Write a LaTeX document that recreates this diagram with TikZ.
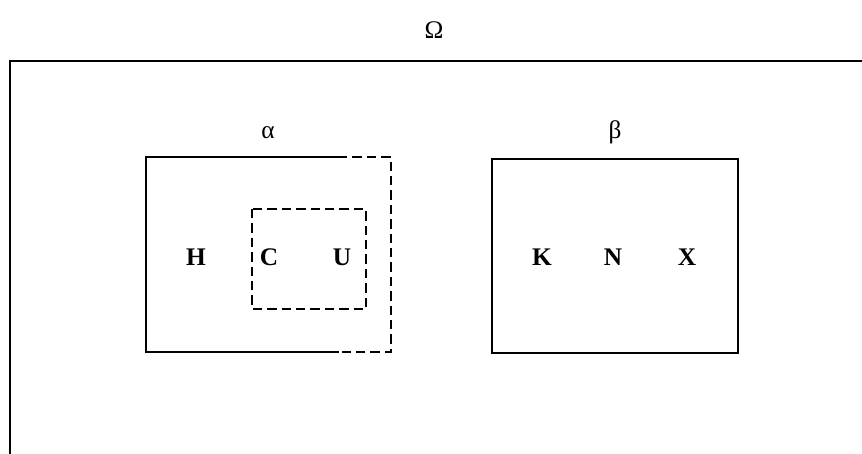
\documentclass[tikz,border=0pt]{standalone}
\usepackage{fontspec}
\setmainfont{Liberation Serif}
\usetikzlibrary{positioning}
\tikzset{
  setline/.style={line width=1.9pt, line cap=rect},
  dashline/.style={line width=1.9pt, dash pattern=on 7pt off 3.8pt},
  elem/.style={font=\fontsize{19}{19}\selectfont\bfseries, inner sep=0pt},
  setname/.style={font=\fontsize{19}{19}\selectfont, inner sep=0pt}}

\begin{document}
\begin{tikzpicture}[x=0.75pt, y=-0.75pt]
  \useasboundingbox (0,0) rectangle (862,453);
  \clip (0,0) rectangle (862,453);
  % universe
  \coordinate (ubl) at (10,480);
  \coordinate (utl) at (10,61);
  \coordinate (utr) at (890,61);
  \draw[setline] (ubl) -- (utl) -- (utr);
  \node[setname] (om) at (434,30) {Ω};
  % set alpha, right part dashed
  \coordinate (atl) at (146,157);
  \coordinate (atm) at (338,157);
  \coordinate (atr) at (391,157);
  \coordinate (abr) at (391,352);
  \coordinate (abm) at (338,352);
  \coordinate (abl) at (146,352);
  \draw[setline] (atm) -- (atl) -- (abl) -- (abm);
  \draw[dashline] (atm) -- (atr) -- (abr) -- (abm);
  \node[setname] (al) at (268,133) {α};
  % inner dashed set
  \coordinate (ctl) at (252,209);
  \coordinate (cbr) at (366,309);
  \draw[dashline] (ctl) rectangle (cbr);
  \node[elem] (h) at (196,257) {H};
  \node[elem] (c) at (269,257) {C};
  \node[elem] (u) at (342,257) {U};
  % set beta
  \coordinate (btl) at (492,159);
  \coordinate (bbr) at (738,353);
  \draw[setline] (btl) rectangle (bbr);
  \node[setname] (be) at (615,132) {β};
  \node[elem] (k) at (542,257) {K};
  \node[elem] (n) at (613,257) {N};
  \node[elem] (x) at (687,257) {X};
\end{tikzpicture}
\end{document}
